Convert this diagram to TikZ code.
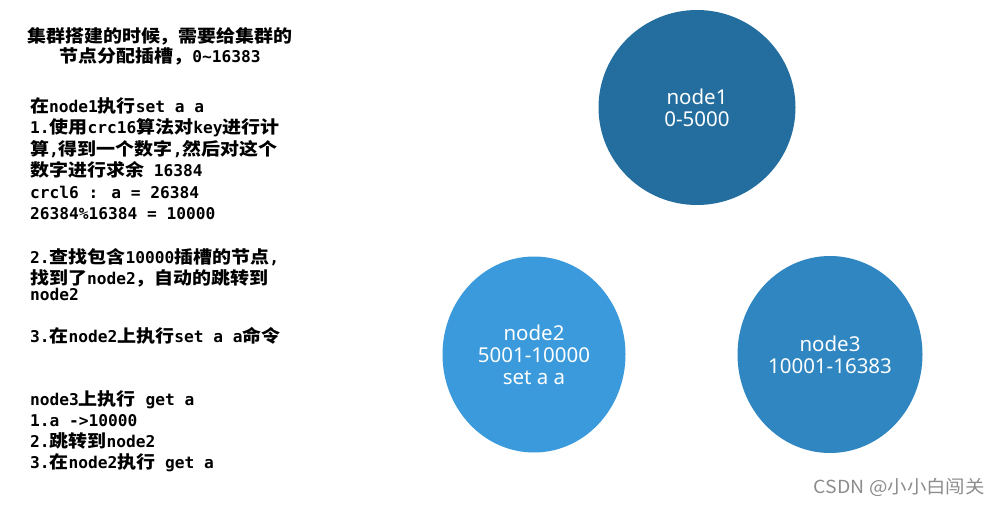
\documentclass[tikz,border=0pt]{standalone}
\usepackage{fontspec}
\usetikzlibrary{shapes.geometric}
\newfontfamily\cjkfam{Noto Sans CJK SC}[Scale=1.07,FakeStretch=1.095]
\newfontfamily\latmono{DejaVu Sans Mono}
\newfontfamily\circfont{Noto Sans}
\newfontfamily\wmfont{Noto Sans CJK SC}[FakeStretch=1.08]
\newcommand\zhc[1]{{\cjkfam\bfseries #1}}
\definecolor{nodeA}{RGB}{35,110,158}
\definecolor{nodeB}{RGB}{58,154,219}
\definecolor{nodeC}{RGB}{47,134,193}
\tikzset{
  txt/.style={anchor=base west, inner sep=0pt, font=\fontsize{16.2}{20}\latmono\bfseries},
  ttl/.style={anchor=base, inner sep=0pt, font=\fontsize{16.2}{20}\latmono\bfseries},
  slot/.style={ellipse, draw=none, text=white, align=center, inner sep=0pt,
    font=\fontsize{20.5}{22}\circfont},
}
\begin{document}
\begin{tikzpicture}[x=1pt,y=-1pt]
\useasboundingbox (0,0) rectangle (1001,505);
% left column text
\node[ttl] (t1) at (160,43) {\zhc{集群搭建的时候，需要给集群的}};
\node[ttl] (t2) at (160,63) {\zhc{节点分配插槽，}0\textasciitilde16383};
\node[txt] (l1) at (30,113) {\zhc{在}node1\zhc{执行}set a a};
\node[txt] (l2) at (30,134) {1.\zhc{使用}crc16\zhc{算法对}key\zhc{进行计}};
\node[txt] (l3) at (30,156) {\zhc{算},\zhc{得到一个数字},\zhc{然后对这个}};
\node[txt] (l4) at (30,177) {\zhc{数字进行求余} 16384};
\node[txt] (l5) at (30,199) {crcl6 : a = 26384};
\node[txt] (l6) at (30,220) {26384\%16384 = 10000};
\node[txt] (l7) at (30,263) {2.\zhc{查找包含}10000\zhc{插槽的节点},};
\node[txt] (l8) at (30,284) {\zhc{找到了}node2\zhc{，自动的跳转到}};
\node[txt] (l9) at (30,300) {node2};
\node[txt] (l10) at (30,342) {3.\zhc{在}node2\zhc{上执行}set a a\zhc{命令}};
\node[txt] (l11) at (30,405) {node3\zhc{上执行} get a};
\node[txt] (l12) at (30,426) {1.a ->10000};
\node[txt] (l13) at (30,447) {2.\zhc{跳转到}node2};
\node[txt] (l14) at (30,468) {3.\zhc{在}node2\zhc{执行} get a};
% slot circles
\node[slot, fill=nodeA, minimum width=197pt, minimum height=195pt] (n1) at (697,107.5) {node1\\0-5000};
\node[slot, fill=nodeB, minimum width=183pt, minimum height=196pt] (n2) at (534,354.5) {node2\\5001-10000\\set a a};
\node[slot, fill=nodeC, minimum width=185pt, minimum height=197pt] (n3) at (830,354.5) {node3\\10001-16383};
% watermark
\node[anchor=east, inner sep=0pt, text=black!45, font=\fontsize{18}{20}\wmfont] (wm) at (985,487) {CSDN @小小白闯关};
\end{tikzpicture}
\end{document}
